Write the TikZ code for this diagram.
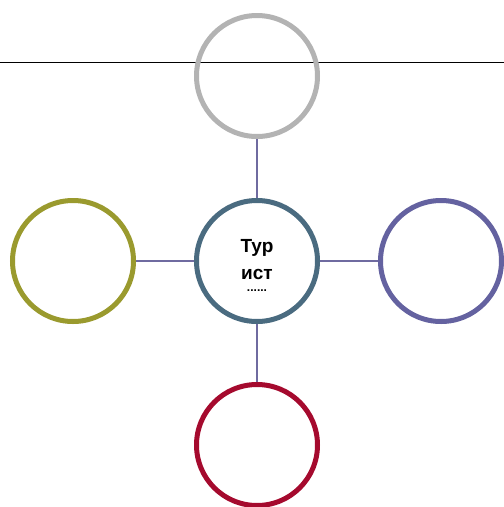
\documentclass[tikz,border=0pt]{standalone}
\usepackage{fontspec}
\setmainfont{Liberation Sans}
\tikzset{
    ring/.style={circle,draw,line width=5pt,minimum size=121pt,inner sep=0pt},
    link/.style={draw=linkcol,line width=1.2pt}
}
\definecolor{linkcol}{HTML}{6F6BA0}
\definecolor{topcol}{HTML}{B3B3B3}
\definecolor{midcol}{HTML}{4A6B80}
\definecolor{leftcol}{HTML}{9A9A2E}
\definecolor{rightcol}{HTML}{6462A0}
\definecolor{downcol}{HTML}{A50A2E}
\begin{document}
\begin{tikzpicture}[x=1pt,y=-1pt]
            \useasboundingbox (0,0) rectangle (504,507);
        	\draw[line width=1.6pt] (0,62.5) -- (504,62.5);
            \node[ring,draw=midcol] (tourist) at (257,261) {};
            \node[align=center,font=\bfseries\fontsize{19}{27}\selectfont,yshift=-4pt] (touristtext) at (tourist) {Тур\\ист\\[-15pt]{\fontsize{12}{12}\selectfont ......}};
            \node[ring,draw=topcol] (upper) at (257,76) {};
            \node[ring,draw=leftcol] (left) at (73,261) {};
            \node[ring,draw=rightcol] (right) at (441,261) {};
            \node[ring,draw=downcol] (lower) at (257,445) {};
            \draw[link] (tourist) -- (upper);
            \draw[link] (tourist) -- (left);
            \draw[link] (tourist) -- (right);
            \draw[link] (tourist) -- (lower);
        \end{tikzpicture}
\end{document}
